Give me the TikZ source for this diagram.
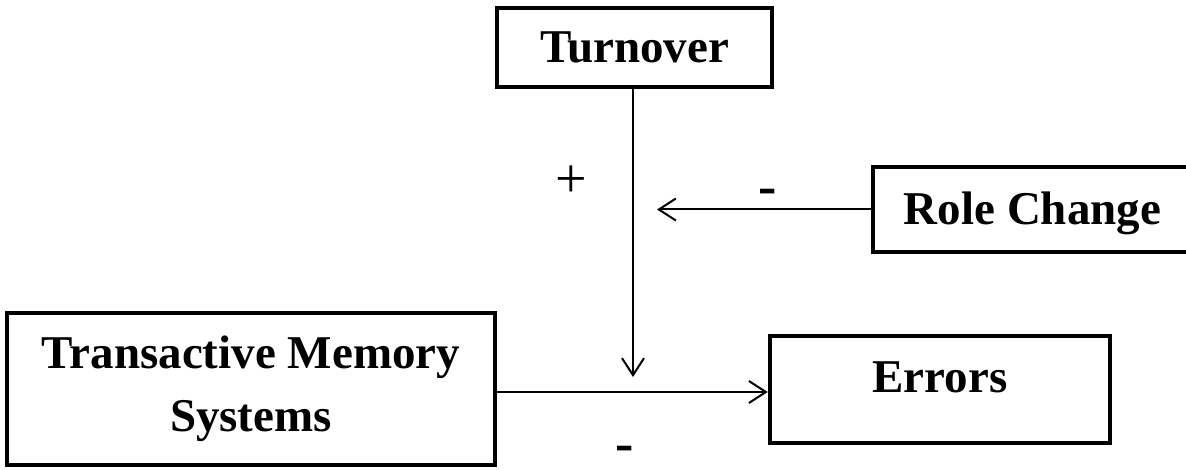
\documentclass[tikz,border=0pt]{standalone}
\usepackage{fontspec}
\setmainfont{Liberation Serif}
\usetikzlibrary{arrows.meta}
\begin{document}
\begin{tikzpicture}[x=1pt,y=-1pt,
  boxnode/.style={draw, line width=4.5pt, inner sep=0pt, align=center,
    font=\fontsize{47}{63}\selectfont\bfseries},
  oneline/.style={text height=31pt, text depth=0pt},
  conn/.style={line width=2pt, -{Straight Barb[length=17pt,width=22pt,line width=2pt]}},
  plussign/.style={inner sep=0pt, font=\fontsize{56}{60}\selectfont},
  minussign/.style={inner sep=0pt, anchor=base, font=\fontsize{55}{60}\selectfont\bfseries}]
\clip (0,0) rectangle (1186,470);
\fill[white] (0,0) rectangle (1186,470);
\node[boxnode, oneline, minimum width=275pt, minimum height=79pt] (turn) at (634.5,47.5) {Turnover};
\node[boxnode, oneline, minimum width=319pt, minimum height=85pt] (role) at (1032.5,209.5) {Role Change};
\node[boxnode, minimum width=488pt, minimum height=152pt] (tms) at (251,389) {Transactive Memory\\Systems};
\node[boxnode, text height=31pt, text depth=26pt, minimum width=340pt, minimum height=107pt] (err) at (940,389.5) {Errors};
\coordinate (vend) at (633,377);
\coordinate (rend) at (657,209.5);
\draw[conn] (turn.south -| vend) -- (vend);
\draw[conn] (role.west) -- (rend);
\draw[conn] (tms.east |- 0,392) -- (err.west |- 0,392);
\node[plussign] (plus) at (571,182) {+};
\node[minussign] (m1) at (768,205) {-};
\node[minussign] (m2) at (625,461) {-};
\end{tikzpicture}
\end{document}
